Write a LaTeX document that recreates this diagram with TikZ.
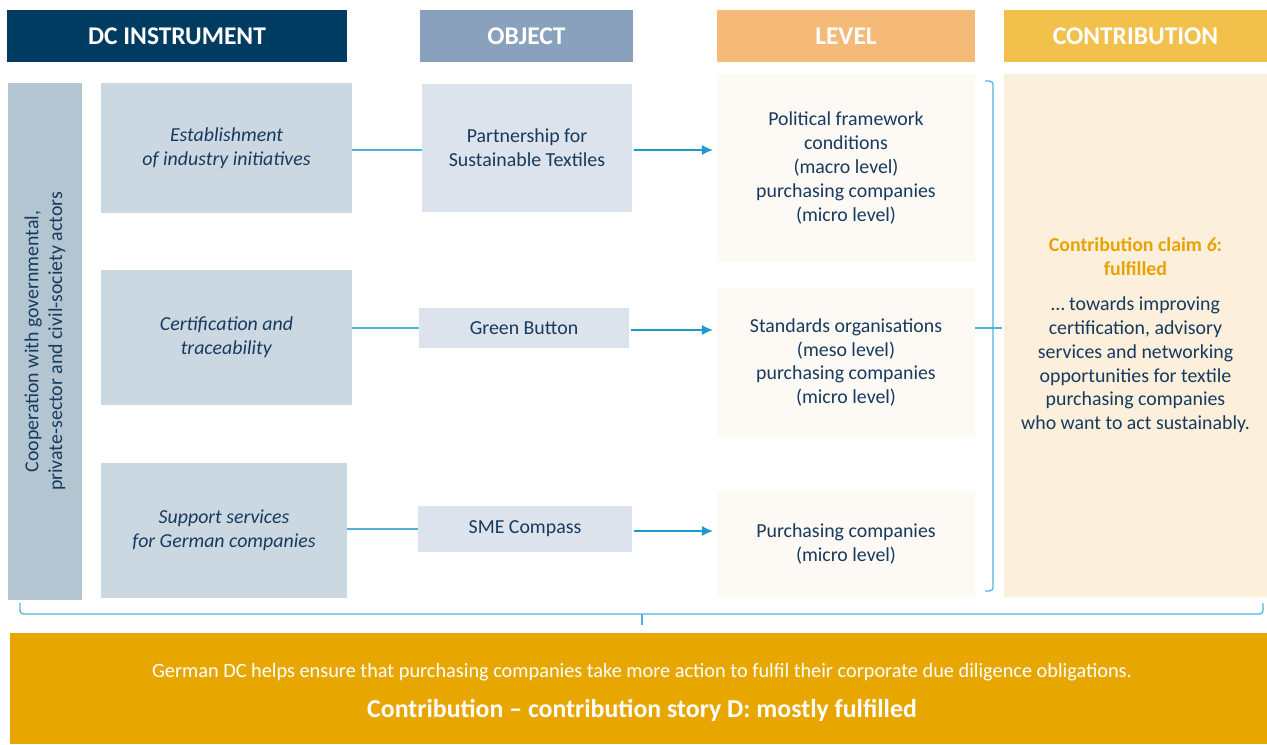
\documentclass[tikz,border=0pt]{standalone}
\usepackage{fontspec}
\setmainfont{Carlito}
\usetikzlibrary{positioning, arrows.meta}
\tikzset{>={Latex[length=6.5pt, width=6pt]}}
\definecolor{navy}{HTML}{003B62}
\definecolor{objhead}{HTML}{8AA1BE}
\definecolor{levhead}{HTML}{F5BA78}
\definecolor{conhead}{HTML}{F1C14C}
\definecolor{coopfill}{HTML}{B4C5D2}
\definecolor{instfill}{HTML}{CCD8E1}
\definecolor{objfill}{HTML}{DCE3EC}
\definecolor{levfill}{HTML}{FDF9F4}
\definecolor{confill}{HTML}{FCEFDC}
\definecolor{banner}{HTML}{E8A600}
\definecolor{txt}{HTML}{173A5E}
\definecolor{claim}{HTML}{E9A300}
\definecolor{linkblue}{HTML}{4DB3DC}
\definecolor{flowblue}{HTML}{1B9BD1}
\tikzset{
  hdr/.style={inner sep=0pt, text=white, font=\bfseries\fontsize{14.5}{17}\selectfont, minimum height=1.04cm},
  box/.style={inner sep=0pt, align=center, text=txt, font=\fontsize{11.3}{13.6}\selectfont},
  link/.style={draw=linkblue, line width=0.7pt},
  flow/.style={draw=flowblue, line width=1.3pt, ->, shorten <=1pt, shorten >=2pt},
  brace/.style={draw=linkblue, line width=0.7pt, rounded corners=2pt},
}
\begin{document}
\begin{tikzpicture}[x=0.02cm, y=-0.02cm]
    \useasboundingbox (0, 0) rectangle (1267, 744);
    % column heads
    \node[hdr, fill=navy, minimum width=6.8cm](hInst) at (177, 36){DC INSTRUMENT};
    \node[hdr, fill=objhead, minimum width=4.26cm](hObj) at (526.5, 36){OBJECT};
    \node[hdr, fill=levhead, minimum width=5.16cm](hLev) at (846, 36){LEVEL};
    \node[hdr, fill=conhead, minimum width=5.26cm](hCon) at (1135.5, 36){CONTRIBUTION};
    % instruments
    \node[box, fill=coopfill, rotate=90, minimum width=10.34cm, minimum height=1.48cm](coop) at (45, 341.5){Cooperation with governmental,\\private-sector and civil-society actors};
    \node[box, fill=instfill, minimum width=5.02cm, minimum height=2.6cm](inst1) at (226.5, 148){\textit{Establishment}\\\textit{of industry initiatives}};
    \node[box, fill=instfill, minimum width=5.02cm, minimum height=2.7cm](inst2) at (226.5, 337.5){\textit{Certification and}\\\textit{traceability}};
    \node[box, fill=instfill, minimum width=4.92cm, minimum height=2.7cm](inst3) at (224, 530.5){\textit{Support services}\\\textit{for German companies}};
    % objects
    \node[box, fill=objfill, minimum width=4.2cm, minimum height=2.56cm](obj1) at (527, 148){Partnership for\\Sustainable Textiles};
    \node[box, fill=objfill, minimum width=4.2cm, minimum height=0.8cm](obj2) at (524, 328){Green Button};
    \node[box, fill=objfill, minimum width=4.28cm, minimum height=0.92cm](obj3) at (525, 529){SME Compass};
    % levels
    \node[box, fill=levfill, minimum width=5.16cm, minimum height=3.76cm](lev1) at (846, 168){Political framework\\conditions\\(macro level)\\purchasing companies\\(micro level)};
    \node[box, fill=levfill, minimum width=5.16cm, minimum height=2.98cm](lev2) at (846, 362.5){Standards organisations\\(meso level)\\purchasing companies\\(micro level)};
    \node[box, fill=levfill, minimum width=5.16cm, minimum height=2.12cm](lev3) at (846, 544){Purchasing companies\\(micro level)};
    % contribution
    \node[box, fill=confill, minimum width=5.26cm, minimum height=10.46cm](con) at (1135.5, 335.5){\textcolor{claim}{\textbf{Contribution claim \textit{6}:}}\\\textcolor{claim}{\textbf{fulfilled}}\\[6pt]\dots{} towards improving\\certification, advisory\\services and networking\\opportunities for textile\\purchasing companies\\who want to act sustainably.};
    \node[box, fill=banner, text=white, minimum width=25.14cm, minimum height=2.22cm](story) at (638.5, 688.5){};
    \node[box, text=white, font=\fontsize{11.55}{14}\selectfont](storyA) at (642, 672){German DC helps ensure that purchasing companies take more action to fulfil their corporate due diligence obligations.};
    \node[box, text=white, font=\bfseries\fontsize{14.7}{17}\selectfont](storyB) at (642, 710){Contribution -- contribution story D: mostly fulfilled};
    % connectors
    \draw[link](inst1.east |- 0, 150)--(obj1.west |- 0, 150);
    \draw[link](inst2.east |- obj2.west)--(obj2.west);
    \draw[link](inst3.east |- obj3.west)--(obj3.west);
    \draw[flow](obj1.east |- 0, 150)--(lev1.west |- 0, 150);
    \draw[flow](obj2.east |- 0, 330)--(lev2.west |- 0, 330);
    \draw[flow](obj3.east |- 0, 531)--(lev3.west |- 0, 531);
    % braces
    \draw[brace](985, 81)--(993, 81)--(993, 591)--(985, 591);
    \draw[brace](lev2.east |- 0, 328)--(1002, 328);
    \draw[brace](20, 603)--(20, 614)--(1263, 614)--(1263, 603);
    \draw[brace](642, 614)--(642, 625);
\end{tikzpicture}
\end{document}
